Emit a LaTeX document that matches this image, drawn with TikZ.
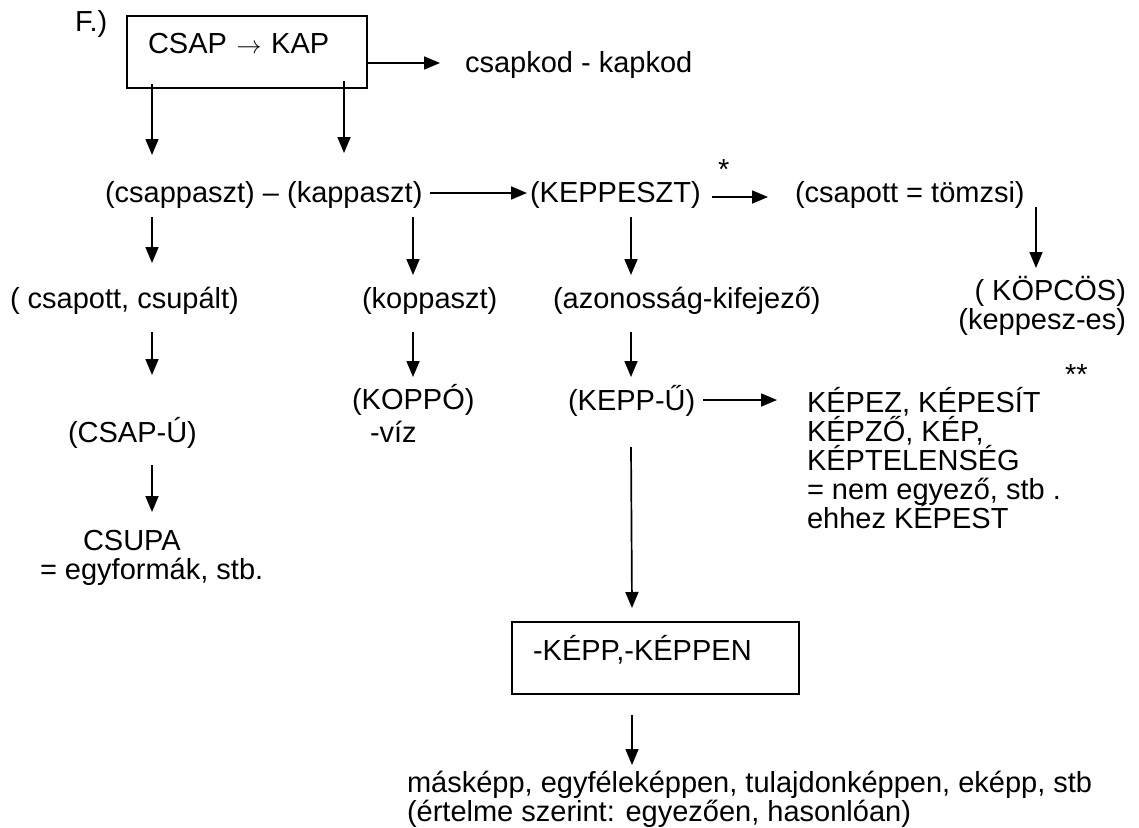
\documentclass[tikz,border=0pt]{standalone}
\usepackage{fontspec}
\setmainfont{Liberation Sans}
\usetikzlibrary{arrows.meta}
\newcommand\diagfont{\fontsize{29pt}{29pt}\selectfont\lineskiplimit=-60pt\relax}
\begin{document}
\begin{tikzpicture}[x=1pt,y=1pt,
  basefont/.style={font=\diagfont},
  txt/.style={basefont, inner sep=0pt, outer sep=0pt, anchor=base west},
  framed/.style={basefont, draw, line width=1.7pt, inner ysep=0pt, inner xsep=21pt,
    outer sep=0pt, anchor=north west, align=left},
  arr/.style={line width=1.7pt, -{Triangle[length=16pt,width=13pt]}}]
\fill[white] (0,0) rectangle (1139,-827);
\useasboundingbox (0,0) rectangle (1139,-827);

% --- text nodes (multi-line nodes are placed by their last baseline) ---
\node[txt] (fl) at (75,-31) {F.)};
\node[framed, text width=198pt, text height=37pt, text depth=35pt] (top) at (127,-16) {CSAP $\rightarrow$ KAP};
\node[txt] (kapkod) at (465,-72) {csapkod - kapkod};
\node[txt] (pair) at (105,-202) {(csappaszt) – (kappaszt)};
\node[txt] (kepp) at (530,-202) {(KEPPESZT)};
\node[txt] (star1) at (718,-179) {*};
\node[txt] (tomzsi) at (795,-202) {(csapott = tömzsi)};
\node[txt, anchor=base east, align=right] (kopcos) at (1126,-329) {( KÖPCÖS)\\(keppesz-es)};
\node[txt] (csupalt) at (10,-308) {( csapott, csupált)};
\node[txt] (koppaszt) at (362,-308) {(koppaszt)};
\node[txt] (azon) at (553,-308) {(azonosság-kifejező)};
\node[txt, align=left] (koppo) at (352,-442) {(KOPPÓ)\\[4pt]\hspace*{18pt}-víz};
\node[txt] (csapu) at (68,-442) {(CSAP-Ú)};
\node[txt] (keppu) at (568,-410) {(KEPP-Ű)};
\node[txt, align=left] (kepez) at (807,-528) {KÉPEZ, KÉPESÍT\\KÉPZŐ, KÉP,\\KÉPTELENSÉG\\= nem egyező, stb .\\ehhez KÉPEST};
\node[txt] (star2) at (1065,-384) {**};
\node[txt, align=left] (csupa) at (40,-579) {\hspace*{43pt}CSUPA\\= egyformák, stb.};
\node[framed, text width=245pt, text height=38pt, text depth=34pt] (kbox) at (512,-622) {-KÉPP,-KÉPPEN};
\node[txt, align=left] (maskepp) at (407,-821) {másképp, egyféleképpen, tulajdonképpen, eképp, stb\\(értelme szerint: egyezően, hasonlóan)};

% --- connectors ---
\draw[arr] ([shift={(25,-68)}]top.north west) -- ([shift={(47,47)}]pair.base west);
\draw[arr] ([shift={(217,-65)}]top.north west) -- ([shift={(239,49)}]pair.base west);
\draw[arr] ([shift={(240,-47)}]top.north west) -- ([shift={(-25,9)}]kapkod.base west);
\draw[arr] ([shift={(325,9)}]pair.base west) -- ([shift={(-3,9)}]kepp.base west);
\draw[arr] ([shift={(182,5)}]kepp.base west) -- ([shift={(-27,5)}]tomzsi.base west);
\draw[arr] ([shift={(241,-5)}]tomzsi.base west) -- ([shift={(-90,61)}]kopcos.base east);
\draw[arr] ([shift={(47,-15)}]pair.base west) -- ([shift={(142,45)}]csupalt.base west);
\draw[arr] ([shift={(308,-15)}]pair.base west) -- ([shift={(51,33)}]koppaszt.base west);
\draw[arr] ([shift={(101,-15)}]kepp.base west) -- ([shift={(78,33)}]azon.base west);
\draw[arr] ([shift={(142,-24)}]csupalt.base west) -- ([shift={(84,67)}]csapu.base west);
\draw[arr] ([shift={(51,-24)}]koppaszt.base west) -- ([shift={(61,65)}]koppo.base west);
\draw[arr] ([shift={(78,-24)}]azon.base west) -- ([shift={(63,33)}]keppu.base west);
\draw[arr] ([shift={(135,10)}]keppu.base west) -- ([shift={(-30,128)}]kepez.base west);
\draw[arr] ([shift={(63,-37)}]keppu.base west) -- ([shift={(120,14)}]kbox.north west);
\draw[arr] ([shift={(84,-23)}]csapu.base west) -- ([shift={(112,67)}]csupa.base west);
\draw[arr] ([shift={(120,-93)}]kbox.north west) -- ([shift={(225,56)}]maskepp.base west);
\end{tikzpicture}
\end{document}
